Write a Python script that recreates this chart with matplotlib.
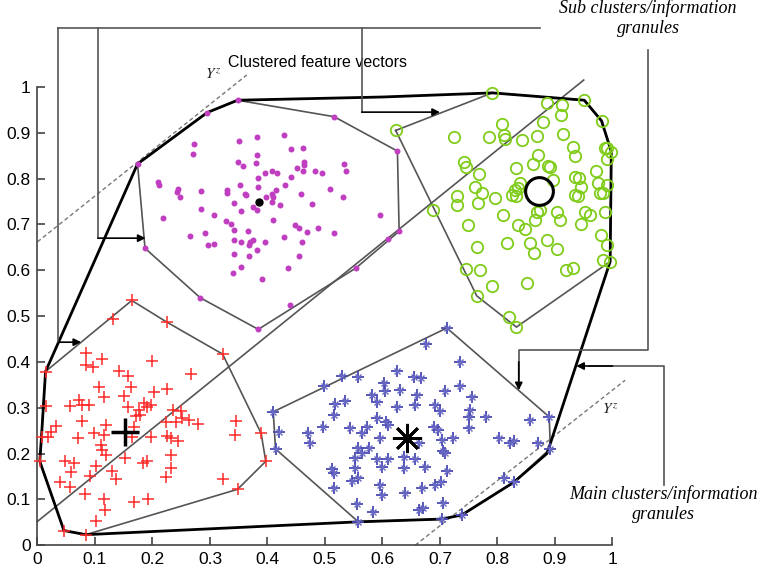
import matplotlib
matplotlib.use('Agg')
import matplotlib.pyplot as plt
import numpy as np

plt.rcParams['font.family'] = ['Liberation Sans', 'DejaVu Sans']

# --- data ---
red_x = [0.014, 0.164, 0.226, 0.322, 0.389, 0.397, 0.348, 0.084, 0.046, 0.004, 0.014, 0.007,
         0.132, 0.084, 0.084, 0.096, 0.113, 0.200, 0.141, 0.157, 0.162, 0.267, 0.107, 0.116,
         0.151, 0.226, 0.203, 0.056, 0.072, 0.078, 0.090, 0.186, 0.197, 0.158, 0.177, 0.191,
         0.178, 0.171, 0.235, 0.249, 0.252, 0.264, 0.280, 0.241, 0.223, 0.226, 0.232, 0.244,
         0.077, 0.033, 0.023, 0.019, 0.071, 0.099, 0.119, 0.116, 0.168, 0.165, 0.197, 0.110,
         0.113, 0.119, 0.152, 0.183, 0.191, 0.101, 0.129, 0.136, 0.048, 0.064, 0.058, 0.091,
         0.039, 0.056, 0.083, 0.116, 0.168, 0.193, 0.118, 0.101, 0.232, 0.232, 0.223, 0.322,
         0.345, 0.344]
red_y = [0.379, 0.534, 0.486, 0.417, 0.244, 0.183, 0.122, 0.023, 0.032, 0.183, 0.303, 0.237,
         0.493, 0.419, 0.393, 0.388, 0.406, 0.403, 0.380, 0.369, 0.346, 0.374, 0.345, 0.324,
         0.326, 0.341, 0.335, 0.304, 0.317, 0.306, 0.306, 0.310, 0.306, 0.301, 0.295, 0.301,
         0.284, 0.281, 0.295, 0.292, 0.277, 0.273, 0.265, 0.268, 0.268, 0.239, 0.234, 0.228,
         0.270, 0.260, 0.248, 0.237, 0.233, 0.244, 0.263, 0.241, 0.259, 0.237, 0.236, 0.219,
         0.208, 0.197, 0.190, 0.180, 0.183, 0.172, 0.161, 0.144, 0.183, 0.179, 0.159, 0.150,
         0.139, 0.128, 0.112, 0.100, 0.095, 0.100, 0.076, 0.052, 0.197, 0.168, 0.148, 0.144,
         0.270, 0.241]

magenta_x = [0.174, 0.295, 0.348, 0.516, 0.626, 0.629, 0.610, 0.554, 0.439, 0.384, 0.283, 0.187,
             0.272, 0.270, 0.351, 0.381, 0.428, 0.441, 0.461, 0.381, 0.348, 0.358, 0.380, 0.464,
             0.463, 0.451, 0.533, 0.536, 0.210, 0.212, 0.245, 0.242, 0.247, 0.284, 0.330, 0.330,
             0.352, 0.361, 0.363, 0.384, 0.384, 0.395, 0.408, 0.416, 0.441, 0.430, 0.462, 0.483,
             0.495, 0.508, 0.458, 0.415, 0.408, 0.410, 0.398, 0.342, 0.354, 0.374, 0.381, 0.408,
             0.421, 0.477, 0.531, 0.284, 0.218, 0.307, 0.328, 0.337, 0.342, 0.366, 0.409, 0.448,
             0.455, 0.468, 0.488, 0.515, 0.596, 0.265, 0.292, 0.296, 0.307, 0.342, 0.354, 0.370,
             0.374, 0.368, 0.381, 0.395, 0.428, 0.460, 0.342, 0.367, 0.454, 0.354, 0.340, 0.391,
             0.436]
magenta_y = [0.832, 0.944, 0.971, 0.935, 0.860, 0.685, 0.669, 0.605, 0.524, 0.471, 0.540, 0.648,
             0.875, 0.853, 0.882, 0.891, 0.896, 0.864, 0.867, 0.851, 0.837, 0.828, 0.833, 0.837,
             0.829, 0.822, 0.832, 0.816, 0.792, 0.787, 0.777, 0.771, 0.760, 0.772, 0.776, 0.769,
             0.787, 0.767, 0.764, 0.802, 0.781, 0.813, 0.816, 0.813, 0.804, 0.787, 0.816, 0.816,
             0.813, 0.778, 0.766, 0.776, 0.766, 0.760, 0.760, 0.746, 0.730, 0.738, 0.731, 0.749,
             0.742, 0.744, 0.760, 0.733, 0.713, 0.720, 0.707, 0.701, 0.688, 0.686, 0.710, 0.698,
             0.693, 0.684, 0.693, 0.681, 0.720, 0.675, 0.681, 0.655, 0.657, 0.665, 0.662, 0.662,
             0.666, 0.655, 0.645, 0.662, 0.672, 0.661, 0.636, 0.630, 0.630, 0.607, 0.594, 0.581,
             0.604]

green_x = [0.623, 0.791, 0.951, 0.981, 0.991, 0.998, 0.996, 0.833, 0.820, 0.764, 0.886, 0.913,
           0.911, 0.880, 0.808, 0.725, 0.785, 0.812, 0.813, 0.842, 0.868, 0.914, 0.932, 0.935,
           0.987, 0.991, 0.742, 0.746, 0.768, 0.833, 0.862, 0.871, 0.888, 0.891, 0.897, 0.761,
           0.773, 0.729, 0.729, 0.766, 0.795, 0.830, 0.833, 0.839, 0.935, 0.942, 0.946, 0.935,
           0.940, 0.972, 0.975, 0.978, 0.984, 0.990, 0.688, 0.810, 0.749, 0.836, 0.848, 0.865,
           0.874, 0.868, 0.903, 0.909, 0.946, 0.952, 0.961, 0.987, 0.980, 0.991, 0.764, 0.816,
           0.856, 0.864, 0.886, 0.903, 0.746, 0.769, 0.920, 0.932, 0.984, 0.791, 0.852, 0.826,
           0.836]
green_y = [0.905, 0.987, 0.971, 0.926, 0.866, 0.859, 0.619, 0.476, 0.497, 0.544, 0.966, 0.960,
           0.939, 0.924, 0.920, 0.890, 0.890, 0.895, 0.886, 0.884, 0.893, 0.897, 0.870, 0.849,
           0.866, 0.842, 0.837, 0.825, 0.810, 0.822, 0.831, 0.851, 0.827, 0.825, 0.797, 0.781,
           0.768, 0.762, 0.742, 0.746, 0.757, 0.775, 0.762, 0.790, 0.803, 0.801, 0.782, 0.764,
           0.761, 0.817, 0.790, 0.768, 0.768, 0.786, 0.731, 0.721, 0.699, 0.699, 0.691, 0.710,
           0.731, 0.728, 0.728, 0.710, 0.701, 0.728, 0.721, 0.726, 0.677, 0.655, 0.651, 0.660,
           0.660, 0.637, 0.667, 0.646, 0.602, 0.601, 0.601, 0.604, 0.622, 0.566, 0.573, 0.764,
           0.779]

blue_x = [0.410, 0.712, 0.890, 0.892, 0.828, 0.811, 0.738, 0.703, 0.558, 0.414, 0.420, 0.675,
          0.735, 0.625, 0.529, 0.558, 0.654, 0.667, 0.499, 0.603, 0.605, 0.581, 0.590, 0.630,
          0.660, 0.708, 0.735, 0.755, 0.518, 0.534, 0.625, 0.657, 0.692, 0.700, 0.753, 0.750,
          0.780, 0.857, 0.516, 0.497, 0.544, 0.564, 0.573, 0.590, 0.606, 0.609, 0.689, 0.697,
          0.750, 0.471, 0.474, 0.558, 0.577, 0.596, 0.663, 0.703, 0.722, 0.709, 0.802, 0.822,
          0.828, 0.871, 0.552, 0.564, 0.590, 0.599, 0.609, 0.637, 0.637, 0.657, 0.674, 0.706,
          0.712, 0.512, 0.515, 0.552, 0.515, 0.547, 0.558, 0.596, 0.599, 0.639, 0.668, 0.692,
          0.701, 0.555, 0.584, 0.663, 0.671, 0.706]
blue_y = [0.291, 0.474, 0.280, 0.211, 0.137, 0.147, 0.066, 0.057, 0.051, 0.210, 0.248, 0.438,
          0.399, 0.380, 0.370, 0.368, 0.368, 0.365, 0.348, 0.353, 0.336, 0.328, 0.312, 0.338,
          0.328, 0.336, 0.348, 0.324, 0.309, 0.314, 0.302, 0.307, 0.306, 0.293, 0.295, 0.280,
          0.280, 0.273, 0.285, 0.258, 0.256, 0.244, 0.258, 0.278, 0.269, 0.262, 0.258, 0.251,
          0.255, 0.244, 0.222, 0.213, 0.213, 0.233, 0.224, 0.229, 0.234, 0.202, 0.234, 0.222,
          0.227, 0.224, 0.191, 0.202, 0.188, 0.171, 0.188, 0.193, 0.169, 0.189, 0.171, 0.205,
          0.162, 0.166, 0.157, 0.169, 0.125, 0.140, 0.146, 0.131, 0.109, 0.113, 0.125, 0.131,
          0.139, 0.089, 0.073, 0.077, 0.082, 0.093]

# cluster centres
red_centre = (0.153, 0.248)
magenta_centre = (0.386, 0.748)
green_centre = (0.872, 0.773)
blue_centre = (0.643, 0.235)

# sub cluster hulls (closed polygons)
red_hull = [(0.014, 0.379), (0.164, 0.534), (0.226, 0.486), (0.322, 0.417), (0.389, 0.244),
            (0.397, 0.183), (0.348, 0.122), (0.084, 0.023), (0.046, 0.032), (0.004, 0.183)]
magenta_hull = [(0.174, 0.832), (0.187, 0.648), (0.283, 0.540), (0.384, 0.471), (0.554, 0.605),
                (0.629, 0.685), (0.626, 0.860), (0.516, 0.935), (0.348, 0.971), (0.295, 0.944)]
green_hull = [(0.623, 0.905), (0.791, 0.987), (0.951, 0.971), (0.981, 0.926), (0.998, 0.859),
              (0.996, 0.619), (0.833, 0.476), (0.764, 0.544)]
blue_hull = [(0.410, 0.291), (0.712, 0.474), (0.890, 0.280), (0.892, 0.211), (0.828, 0.137),
             (0.738, 0.066), (0.703, 0.057), (0.558, 0.051), (0.414, 0.210)]
# main cluster hull
main_hull = [(0.046, 0.032), (0.084, 0.023), (0.558, 0.051), (0.703, 0.057), (0.738, 0.066),
             (0.828, 0.137), (0.886, 0.200), (0.892, 0.222), (0.996, 0.619), (0.998, 0.859),
             (0.981, 0.926), (0.951, 0.971), (0.791, 0.987), (0.600, 0.978), (0.348, 0.971),
             (0.295, 0.944), (0.174, 0.832), (0.014, 0.379), (0.007, 0.237), (0.004, 0.183)]

separator = [(0.0, 0.052), (0.95, 1.015)]
y_top_dash = [(0.0, 0.662), (0.364, 1.026)]
y_bot_dash = [(0.657, 0.0), (1.022, 0.36)]

ticks = [0, 0.1, 0.2, 0.3, 0.4, 0.5, 0.6, 0.7, 0.8, 0.9, 1]

gray = '#555555'

fig = plt.figure(figsize=(7.65, 5.73), dpi=100)
ax = fig.add_axes([0.049, 0.0485, 0.7516, 0.7998])
ax.set_xlim(0, 1)
ax.set_ylim(0, 1)


def draw_poly(pts, closed=True, **kw):
    pts = list(pts) + ([pts[0]] if closed else [])
    xs, ys = zip(*pts)
    ax.plot(xs, ys, clip_on=False, **kw)


for hull in (red_hull, magenta_hull, green_hull, blue_hull):
    draw_poly(hull, color=gray, lw=1.2, zorder=2)
draw_poly(separator, closed=False, color=gray, lw=1.2, zorder=2)
draw_poly(y_top_dash, closed=False, color='#777777', lw=1.0, ls=(0, (3, 2)), zorder=2)
draw_poly(y_bot_dash, closed=False, color='#777777', lw=1.0, ls=(0, (3, 2)), zorder=2)
draw_poly(main_hull, color='black', lw=2.0, zorder=3)

ax.plot(red_x, red_y, '+', color='#ff2a2a', ms=9, mew=1.1, clip_on=False, zorder=4)
ax.plot(magenta_x, magenta_y, 'o', color='#c03ec0', ms=4.3, mew=0, clip_on=False, zorder=4)
ax.plot(green_x, green_y, 'o', mfc='none', mec='#80cc1a', ms=8.2, mew=1.3, clip_on=False, zorder=4)
# blue asterisks: a plus with a small cross
ax.plot(blue_x, blue_y, '+', color='#4a4ab4', ms=8, mew=1.3, clip_on=False, zorder=4)
ax.plot(blue_x, blue_y, 'x', color='#6a6ac4', ms=4, mew=1.0, clip_on=False, zorder=4)

ax.plot(*red_centre, '+', color='black', ms=20, mew=2.5, zorder=5)
ax.plot(*magenta_centre, 'o', color='black', ms=5, zorder=5)
ax.plot(*green_centre, 'o', mfc='none', mec='black', ms=20, mew=2.2, zorder=5)
ax.plot(*blue_centre, marker=(8, 2, 0), color='black', ms=21, mew=2.0, zorder=5)

# Y labels near dashed lines
ax.text(0.305, 1.026, r'$Y^z$', fontsize=11, family='Liberation Serif', ha='center',
        va='center', math_fontfamily='stix', color='#222222')
ax.text(0.995, 0.295, r'$Y^z$', fontsize=11, family='Liberation Serif', ha='center',
        va='center', math_fontfamily='stix', color='#222222')

# annotation brackets
ann = dict(color=gray, lw=1.2, clip_on=False, zorder=6)
ax.plot([0.036, 0.874], [1.1285, 1.1285], **ann)
ax.plot([0.036, 0.036], [1.1285, 0.443], **ann)
ax.plot([0.105, 0.105], [1.1285, 0.670], **ann)
ax.plot([0.564, 0.564], [1.1285, 0.945], **ann)
ax.plot([1.062, 1.062, 0.837, 0.837], [1.080, 0.426, 0.426, 0.36], **ann)
ax.plot([1.0896, 1.0896, 0.96], [0.131, 0.391, 0.391], **ann)

arrow = dict(arrowstyle='-|>', color='black', lw=1.2, mutation_scale=11, shrinkA=0, shrinkB=0)
for start, tip in [((0.036, 0.443), (0.076, 0.443)),
                   ((0.105, 0.670), (0.188, 0.670)),
                   ((0.564, 0.945), (0.700, 0.945)),
                   ((0.837, 0.40), (0.837, 0.338)),
                   ((1.0, 0.391), (0.937, 0.391))]:
    ax.annotate('', xy=tip, xytext=start, arrowprops=arrow, annotation_clip=False, zorder=7)

ax.text(0.331, 1.054, 'Clustered feature vectors', fontsize=11.5, ha='left', va='center')
ax.text(1.062, 1.15, 'Sub clusters/information\ngranules', fontsize=13, style='italic',
        family='Liberation Serif', ha='center', va='center', linespacing=1.25)
ax.text(1.088, 0.09, 'Main clusters/information\ngranules', fontsize=13, style='italic',
        family='Liberation Serif', ha='center', va='center', linespacing=1.25)

# axes style
for side in ('top', 'right'):
    ax.spines[side].set_visible(False)
for side in ('left', 'bottom'):
    ax.spines[side].set_color('#444444')
    ax.spines[side].set_linewidth(1.2)
ax.set_xticks(ticks)
ax.set_yticks(ticks)
ax.set_xticklabels([f'{t:g}' for t in ticks])
ax.set_yticklabels([f'{t:g}' for t in ticks])
ax.tick_params(direction='in', length=6, width=1.2, color='#444444', labelsize=12.5, pad=5)

fig.savefig('out.png', dpi=100)
